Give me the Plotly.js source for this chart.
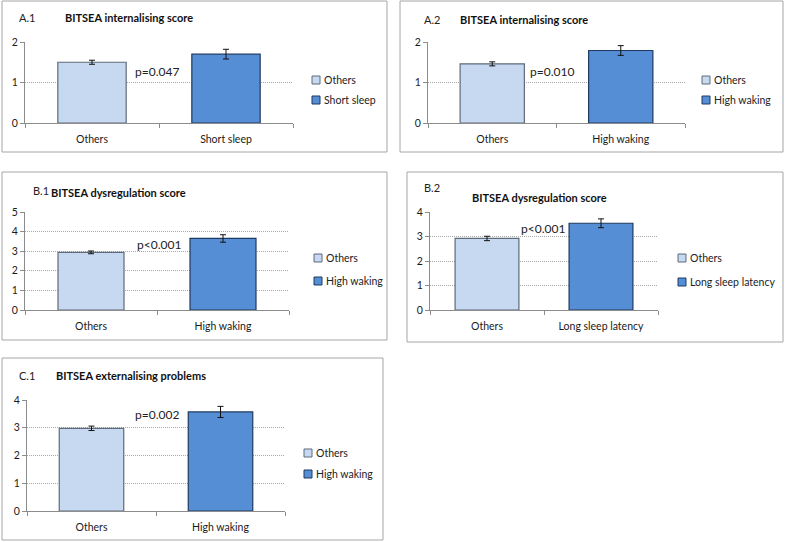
<!DOCTYPE html>
<html><head><meta charset="utf-8">
<script src="https://cdn.plot.ly/plotly-3.0.1.min.js"></script>
<style>html,body{margin:0;padding:0;background:#fff}#chart{width:787px;height:542px}</style>
</head><body><div id="chart"></div>
<script>
// ---------------- data ----------------
const a1Categories = ['Others', 'Short sleep'];
const a1Means = [1.50, 1.70];
const a1Errors = [0.05, 0.12];

const a2Categories = ['Others', 'High waking'];
const a2Means = [1.46, 1.79];
const a2Errors = [0.05, 0.12];

const b1Categories = ['Others', 'High waking'];
const b1Means = [2.94, 3.65];
const b1Errors = [0.07, 0.19];

const b2Categories = ['Others', 'Long sleep latency'];
const b2Means = [2.92, 3.54];
const b2Errors = [0.09, 0.18];

const c1Categories = ['Others', 'High waking'];
const c1Means = [2.98, 3.57];
const c1Errors = [0.08, 0.20];

const panelLabels = ['A.1', 'A.2', 'B.1', 'B.2', 'C.1'];
const panelTitles = ['BITSEA internalising score', 'BITSEA internalising score',
  'BITSEA dysregulation score', 'BITSEA dysregulation score', 'BITSEA externalising problems'];
const pValues = ['p=0.047', 'p=0.010', 'p<0.001', 'p<0.001', 'p=0.002'];
const yAxisMax = [2, 2, 5, 4, 4];

const panelData = [
  [a1Categories, a1Means, a1Errors],
  [a2Categories, a2Means, a2Errors],
  [b1Categories, b1Means, b1Errors],
  [b2Categories, b2Means, b2Errors],
  [c1Categories, c1Means, c1Errors]
];

// ---------------- layout geometry (pixels) ----------------
const W = 787, H = 542;
const geom = [
  {box: [2, 1, 387, 152], plot: [25, 293, 42, 123], label: [17, 17], title: [63, 17], p: [133, 72], leg: [312, 80, 100], bw: 0.51},
  {box: [400, 1, 783, 152], plot: [428, 685, 42, 123], label: [422, 20], title: [458, 20], p: [528, 72], leg: [702, 80, 100], bw: 0.5},
  {box: [2, 172, 387, 340], plot: [25, 289, 212, 310], label: [31, 190], title: [49, 192], p: [135, 244], leg: [314, 258, 281], bw: 0.5},
  {box: [407, 172, 783, 342], plot: [430, 658, 212, 310], label: [422, 188], title: [470, 197], p: [519, 228], leg: [678, 258, 282], bw: 0.56},
  {box: [2, 358, 383, 540], plot: [27, 285, 400, 511], label: [17, 375], title: [54, 375], p: [133, 414], leg: [304, 453, 474], bw: 0.5}
];

const FONT = 'Lato, Carlito, Calibri, "Open Sans", sans-serif';
const px = v => v / W;
const py = v => 1 - v / H;
const fills = ['#c6d9f1', '#558ed5'];
const edges = ['#5f6b7a', '#1f3a60'];

const traces = [];
const layout = {
  width: W, height: H,
  margin: {l: 0, r: 0, t: 0, b: 0},
  paper_bgcolor: '#fff', plot_bgcolor: 'rgba(0,0,0,0)',
  font: {family: FONT, size: 10, color: '#222'},
  barmode: 'overlay', showlegend: false,
  shapes: [], annotations: []
};

panelData.forEach((d, i) => {
  const [cats, means, errs] = d;
  const g = geom[i];
  const sfx = i === 0 ? '' : String(i + 1);
  const xa = 'x' + sfx, ya = 'y' + sfx;
  cats.forEach((c, j) => {
    traces.push({
      type: 'bar', x: [c], y: [means[j]], name: c,
      xaxis: xa, yaxis: ya, width: g.bw, showlegend: false,
      marker: {color: fills[j], line: {color: edges[j], width: 1.2}},
      error_y: {type: 'data', array: [errs[j]], visible: true, color: '#111', thickness: 1, width: 3},
      hoverinfo: 'skip'
    });
    // legend entry (small square + label)
    const ly = g.leg[1 + j];
    layout.shapes.push({
      type: 'rect', xref: 'paper', yref: 'paper',
      x0: px(g.leg[0]), x1: px(g.leg[0] + 8), y0: py(ly + 4), y1: py(ly - 4),
      fillcolor: fills[j], line: {color: edges[j], width: 1}
    });
    layout.annotations.push({
      xref: 'paper', yref: 'paper', x: px(g.leg[0] + 10), y: py(ly),
      xanchor: 'left', yanchor: 'middle', showarrow: false, text: c,
      font: {size: 10.5, color: '#222', family: FONT}
    });
  });
  layout['xaxis' + sfx] = {
    domain: [px(g.plot[0]), px(g.plot[1])], anchor: ya, type: 'category',
    range: [-0.5, 1.5], showline: true, linecolor: '#8c8c8c', linewidth: 1,
    ticks: 'outside', tickson: 'boundaries', ticklen: 4, tickcolor: '#8c8c8c',
    ticklabelstandoff: 6,
    showgrid: false, zeroline: false, fixedrange: true,
    tickfont: {size: 10.5, color: '#1a1a1a', family: FONT}
  };
  layout['yaxis' + sfx] = {
    domain: [py(g.plot[3]), py(g.plot[2])], anchor: xa,
    range: [0, yAxisMax[i]], dtick: 1, tick0: 0,
    showline: true, linecolor: '#8c8c8c', linewidth: 1,
    ticks: 'outside', ticklen: 4, tickcolor: '#8c8c8c',
    showgrid: true, gridcolor: '#a8a8a8', griddash: '1px,1px', gridwidth: 1,
    zeroline: false, fixedrange: true,
    tickfont: {size: 10.5, color: '#1a1a1a', family: FONT}
  };
  layout.shapes.push({
    type: 'rect', xref: 'paper', yref: 'paper',
    x0: px(g.box[0]), x1: px(g.box[2]), y0: py(g.box[3]), y1: py(g.box[1]),
    line: {color: '#a6a6a6', width: 1}, fillcolor: 'rgba(0,0,0,0)', layer: 'below'
  });
  layout.annotations.push({
    xref: 'paper', yref: 'paper', x: px(g.label[0]), y: py(g.label[1]),
    xanchor: 'left', yanchor: 'middle', showarrow: false, text: panelLabels[i],
    font: {size: 11, color: '#222', family: FONT}
  });
  layout.annotations.push({
    xref: 'paper', yref: 'paper', x: px(g.title[0]), y: py(g.title[1]),
    xanchor: 'left', yanchor: 'middle', showarrow: false, text: '<b>' + panelTitles[i] + '</b>',
    font: {size: 11, color: '#111', family: FONT}
  });
  layout.annotations.push({
    xref: 'paper', yref: 'paper', x: px(g.p[0]), y: py(g.p[1]),
    xanchor: 'left', yanchor: 'middle', showarrow: false, text: pValues[i],
    font: {size: 12, color: '#222', family: FONT}
  });
});

Plotly.newPlot('chart', traces, layout, {displayModeBar: false, staticPlot: true});
</script></body></html>
